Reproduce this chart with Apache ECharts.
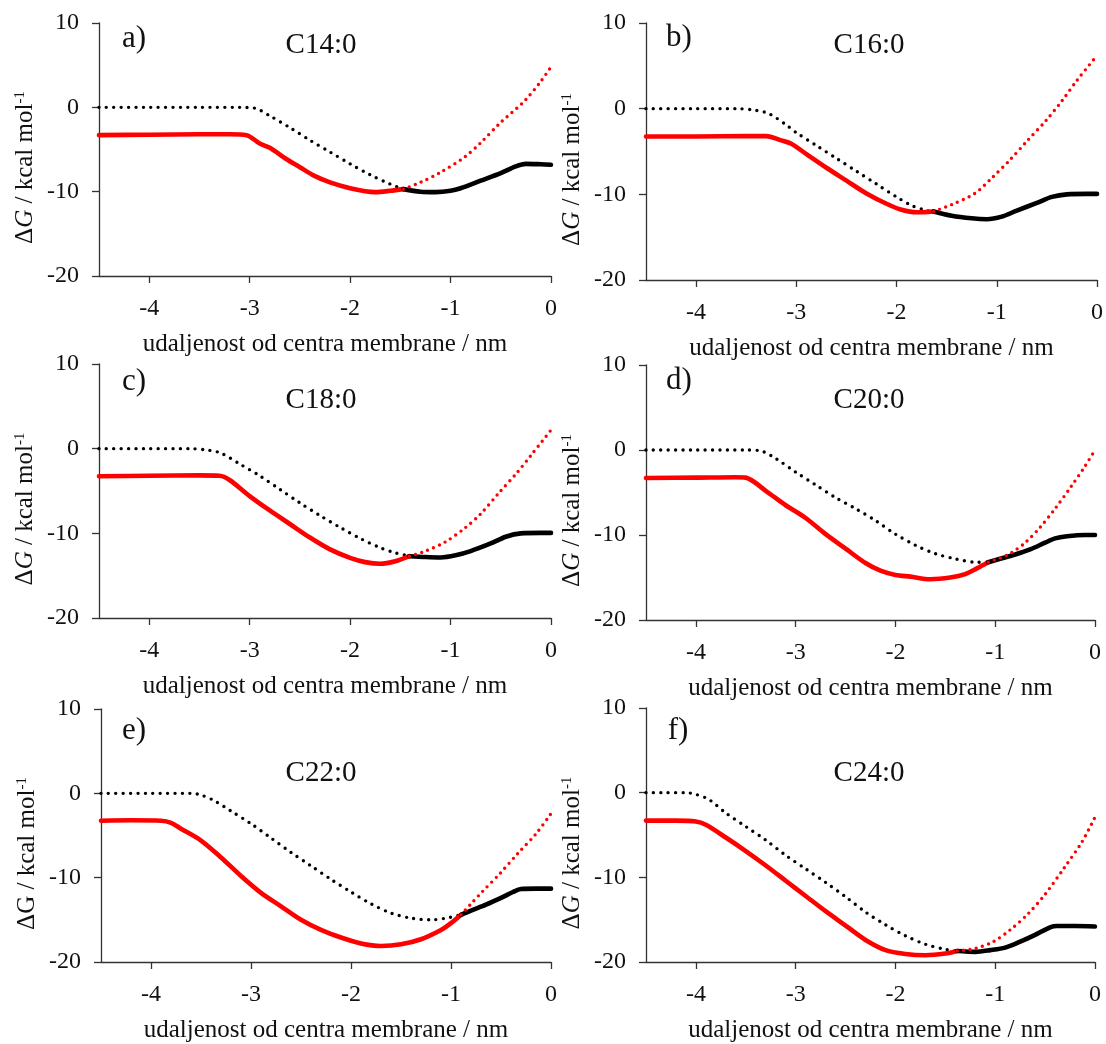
<!DOCTYPE html>
<html><head><meta charset="utf-8">
<script src="https://cdn.jsdelivr.net/npm/echarts@6/dist/echarts.min.js"></script>
<style>html,body{margin:0;padding:0;background:#fff}#c{width:1106px;height:1044px}</style>
</head><body><div id="c"></div><script>
// ---------- data ----------
const xTicks = [-4, -3, -2, -1, 0];
const yTicks = [-20, -10, 0, 10];
const panelLabels = ['a)', 'b)', 'c)', 'd)', 'e)', 'f)'];
const lipids = ['C14:0', 'C16:0', 'C18:0', 'C20:0', 'C22:0', 'C24:0'];
const xName = 'udaljenost od centra membrane / nm';

// a) C14:0
const a_blackDotted = [[-4.5,0],[-4,0],[-3.5,0],[-3.1,0],[-2.95,-0.1],[-2.8,-1.0],[-2.6,-2.4],[-2.4,-3.9],[-2.2,-5.3],[-2.0,-6.7],[-1.8,-8.0],[-1.6,-9.1],[-1.47,-9.7]];
const a_redSolid = [[-4.5,-3.3],[-4,-3.25],[-3.5,-3.2],[-3.2,-3.2],[-3.03,-3.3],[-2.9,-4.3],[-2.8,-4.8],[-2.64,-6.1],[-2.5,-7.1],[-2.36,-8.1],[-2.2,-8.9],[-2.0,-9.6],[-1.85,-9.95],[-1.75,-10.05],[-1.6,-9.9],[-1.47,-9.7]];
const a_blackSolid = [[-1.47,-9.7],[-1.3,-10.0],[-1.15,-10.05],[-1.0,-9.9],[-0.9,-9.6],[-0.7,-8.7],[-0.5,-7.8],[-0.35,-7.0],[-0.25,-6.7],[-0.1,-6.75],[0,-6.8]];
const a_redDotted = [[-1.47,-9.7],[-1.3,-8.9],[-1.1,-7.7],[-0.86,-5.9],[-0.7,-4.2],[-0.51,-1.9],[-0.26,0.8],[-0.1,3.1],[0,4.8]];

// b) C16:0
const b_blackDotted = [[-4.5,0],[-4,0],[-3.6,0],[-3.4,-0.2],[-3.27,-0.6],[-3.1,-1.9],[-3.0,-2.8],[-2.8,-4.3],[-2.6,-5.8],[-2.4,-7.3],[-2.2,-8.8],[-2.0,-10.3],[-1.85,-11.3],[-1.7,-11.9],[-1.63,-12.0]];
const b_redSolid = [[-4.5,-3.25],[-4,-3.25],[-3.5,-3.2],[-3.3,-3.2],[-3.15,-3.7],[-3.05,-4.1],[-2.9,-5.3],[-2.7,-6.9],[-2.5,-8.4],[-2.3,-9.9],[-2.1,-11.1],[-1.95,-11.8],[-1.8,-12.1],[-1.63,-12.0]];
const b_blackSolid = [[-1.63,-12.0],[-1.45,-12.5],[-1.25,-12.8],[-1.1,-12.9],[-0.95,-12.6],[-0.8,-11.9],[-0.6,-11.0],[-0.45,-10.3],[-0.3,-10.0],[-0.1,-9.95],[0,-9.95]];
const b_redDotted = [[-1.63,-12.0],[-1.45,-11.2],[-1.22,-9.9],[-1.05,-8.1],[-0.87,-6.0],[-0.7,-3.8],[-0.51,-1.4],[-0.35,0.9],[-0.2,3.3],[0,6.2]];

// c) C18:0
const c_blackDotted = [[-4.5,0],[-4,0],[-3.6,0],[-3.4,-0.2],[-3.28,-0.55],[-3.1,-1.8],[-2.9,-3.2],[-2.7,-4.8],[-2.5,-6.4],[-2.3,-7.9],[-2.1,-9.3],[-1.9,-10.6],[-1.7,-11.7],[-1.55,-12.3],[-1.41,-12.7]];
const c_redSolid = [[-4.5,-3.25],[-4,-3.2],[-3.5,-3.15],[-3.3,-3.2],[-3.2,-3.7],[-3.0,-5.6],[-2.8,-7.3],[-2.6,-8.9],[-2.4,-10.5],[-2.2,-11.9],[-2.0,-12.9],[-1.85,-13.4],[-1.7,-13.6],[-1.55,-13.3],[-1.41,-12.7]];
const c_blackSolid = [[-1.41,-12.7],[-1.25,-12.8],[-1.1,-12.85],[-0.95,-12.6],[-0.8,-12.1],[-0.6,-11.2],[-0.45,-10.4],[-0.3,-10.0],[-0.1,-9.95],[0,-9.95]];
const c_redDotted = [[-1.41,-12.7],[-1.25,-12.1],[-1.05,-11.0],[-0.86,-9.4],[-0.7,-7.7],[-0.51,-5.1],[-0.35,-3.0],[-0.2,-0.8],[0,2.2]];

// d) C20:0
const d_blackDotted = [[-4.5,0],[-4,0],[-3.5,0],[-3.35,-0.1],[-3.2,-1.0],[-3.0,-2.6],[-2.8,-4.1],[-2.6,-5.6],[-2.4,-6.9],[-2.2,-8.3],[-2.0,-9.9],[-1.8,-11.2],[-1.6,-12.2],[-1.4,-12.8],[-1.2,-13.2],[-1.07,-13.2]];
const d_redSolid = [[-4.5,-3.3],[-4,-3.25],[-3.6,-3.2],[-3.5,-3.25],[-3.3,-4.8],[-3.1,-6.5],[-2.9,-8.0],[-2.7,-9.9],[-2.5,-11.6],[-2.3,-13.3],[-2.15,-14.2],[-2.0,-14.7],[-1.85,-14.9],[-1.65,-15.2],[-1.45,-15.0],[-1.3,-14.6],[-1.18,-13.9],[-1.07,-13.2]];
const d_blackSolid = [[-1.07,-13.2],[-0.95,-12.8],[-0.8,-12.3],[-0.65,-11.7],[-0.5,-10.9],[-0.4,-10.4],[-0.28,-10.15],[-0.1,-10.0],[0,-10.0]];
const d_redDotted = [[-1.07,-13.2],[-0.95,-12.7],[-0.84,-12.1],[-0.7,-10.9],[-0.55,-9.1],[-0.4,-6.9],[-0.24,-4.3],[-0.1,-1.9],[0,0.0]];

// e) C22:0
const e_blackDotted = [[-4.5,0],[-4,0],[-3.6,0],[-3.5,-0.2],[-3.37,-0.85],[-3.2,-2.1],[-3.0,-3.6],[-2.8,-5.3],[-2.6,-7.0],[-2.4,-8.6],[-2.2,-10.2],[-2.0,-11.7],[-1.8,-13.1],[-1.6,-14.2],[-1.4,-14.8],[-1.2,-15.0],[-1.05,-14.8],[-0.9,-14.4]];
const e_redSolid = [[-4.5,-3.25],[-4.2,-3.2],[-3.9,-3.25],[-3.8,-3.5],[-3.7,-4.2],[-3.5,-5.6],[-3.3,-7.6],[-3.1,-9.8],[-2.9,-11.8],[-2.7,-13.4],[-2.5,-15.0],[-2.3,-16.2],[-2.1,-17.1],[-1.9,-17.8],[-1.7,-18.1],[-1.5,-17.9],[-1.3,-17.3],[-1.1,-16.2],[-1.0,-15.4],[-0.9,-14.4]];
const e_blackSolid = [[-0.9,-14.4],[-0.8,-13.9],[-0.65,-13.2],[-0.5,-12.4],[-0.38,-11.7],[-0.3,-11.35],[-0.15,-11.3],[0,-11.3]];
const e_redDotted = [[-0.9,-14.4],[-0.8,-13.1],[-0.69,-11.7],[-0.51,-9.5],[-0.33,-7.1],[-0.15,-4.8],[0,-2.4]];

// f) C24:0
const f_blackDotted = [[-4.5,0],[-4.3,0],[-4.1,0],[-4.0,-0.2],[-3.87,-0.8],[-3.7,-2.4],[-3.5,-4.0],[-3.3,-5.6],[-3.1,-7.4],[-2.9,-9.0],[-2.7,-10.6],[-2.5,-12.3],[-2.3,-14.1],[-2.1,-15.6],[-1.9,-16.9],[-1.7,-17.9],[-1.5,-18.5],[-1.38,-18.7]];
const f_redSolid = [[-4.5,-3.3],[-4.2,-3.3],[-4.0,-3.4],[-3.9,-3.8],[-3.7,-5.3],[-3.5,-6.9],[-3.3,-8.6],[-3.1,-10.4],[-2.9,-12.2],[-2.7,-14.0],[-2.5,-15.7],[-2.3,-17.4],[-2.1,-18.6],[-1.9,-19.05],[-1.7,-19.2],[-1.5,-19.0],[-1.38,-18.7]];
const f_blackSolid = [[-1.38,-18.7],[-1.2,-18.8],[-1.05,-18.6],[-0.9,-18.3],[-0.75,-17.6],[-0.6,-16.8],[-0.45,-15.9],[-0.38,-15.75],[-0.2,-15.75],[0,-15.8]];
const f_redDotted = [[-1.38,-18.7],[-1.2,-18.4],[-1.02,-17.6],[-0.85,-16.2],[-0.67,-14.3],[-0.5,-12.0],[-0.31,-8.9],[-0.13,-5.8],[0,-2.9]];

const seriesSets = [
  [a_blackDotted, a_redSolid, a_blackSolid, a_redDotted],
  [b_blackDotted, b_redSolid, b_blackSolid, b_redDotted],
  [c_blackDotted, c_redSolid, c_blackSolid, c_redDotted],
  [d_blackDotted, d_redSolid, d_blackSolid, d_redDotted],
  [e_blackDotted, e_redSolid, e_blackSolid, e_redDotted],
  [f_blackDotted, f_redSolid, f_blackSolid, f_redDotted]
];

// ---------- layout ----------
const FONT = '"Liberation Serif", "Times New Roman", serif';
const grids = [
  {left: 99, top: 23, width: 452, height: 253},
  {left: 646, top: 23, width: 452, height: 257},
  {left: 99, top: 364, width: 452, height: 254},
  {left: 646, top: 365, width: 449, height: 255},
  {left: 101, top: 709, width: 450, height: 255},
  {left: 646, top: 708, width: 449, height: 259}
];
const labelPos = [[134, 39], [679, 38], [134, 382], [679, 381], [134, 731], [678, 731]];
const titlePos = [[321, 45], [869, 45], [321, 400], [869, 400], [321, 773], [869, 773]];

const axisColor = '#333';
const xAxes = [], yAxes = [], series = [], graphics = [];

grids.forEach((g, i) => {
  xAxes.push({
    type: 'value', gridIndex: i, min: -4.5, max: 0,
    name: xName, nameLocation: 'middle', nameGap: 56,
    nameTextStyle: {fontFamily: FONT, fontSize: 25, color: '#111'},
    axisLine: {show: true, onZero: false, lineStyle: {color: axisColor, width: 1.3}},
    axisTick: {show: true, inside: false, length: 7, customValues: xTicks, lineStyle: {color: axisColor, width: 1.3}},
    axisLabel: {customValues: xTicks, margin: 21, fontFamily: FONT, fontSize: 24, color: '#111'},
    splitLine: {show: false}
  });
  const italic = i !== 4;
  yAxes.push({
    type: 'value', gridIndex: i, min: -20, max: 10, interval: 10,
    name: '{t|Δ}{' + (italic ? 'gi' : 't') + '|G}{t| / kcal mol}{s|-1}',
    nameLocation: 'middle', nameGap: 61, nameRotate: 90,
    nameTextStyle: {
      fontFamily: FONT, fontSize: 25, color: '#111', padding: [0, 36, 0, 0],
      rich: {
        t: {fontFamily: FONT, fontSize: 25, color: '#111'},
        gi: {fontFamily: FONT, fontSize: 25, fontStyle: 'italic', color: '#111'},
        s: {fontFamily: FONT, fontSize: 15, color: '#111', verticalAlign: 'top', padding: [0, 0, 10, 0]}
      }
    },
    axisLine: {show: true, onZero: false, lineStyle: {color: axisColor, width: 1.3}},
    axisTick: {show: true, inside: false, length: 7, lineStyle: {color: axisColor, width: 1.3}},
    axisLabel: {margin: 20, fontFamily: FONT, fontSize: 24, color: '#111'},
    splitLine: {show: false}
  });
  const [bd, rs, bs, rd] = seriesSets[i];
  const common = {type: 'line', xAxisIndex: i, yAxisIndex: i, symbol: 'none', silent: true,
    animation: false, smooth: 0.3};
  series.push(Object.assign({}, common, {data: bd, z: 2,
    lineStyle: {color: '#000', width: 3.4, type: [0, 7.4], cap: 'round'}}));
  series.push(Object.assign({}, common, {data: rs, z: 3,
    lineStyle: {color: '#ff0000', width: 4.6, cap: 'round', join: 'round'}}));
  series.push(Object.assign({}, common, {data: bs, z: 3,
    lineStyle: {color: '#000', width: 4.6, cap: 'round', join: 'round'}}));
  series.push(Object.assign({}, common, {data: rd, z: 4,
    lineStyle: {color: '#ff0000', width: 3.4, type: [0, 6.4], cap: 'round'}}));

  graphics.push({type: 'text', x: labelPos[i][0], y: labelPos[i][1], silent: true,
    style: {text: panelLabels[i], font: '31px ' + FONT, fill: '#111', align: 'center', verticalAlign: 'middle'}});
  graphics.push({type: 'text', x: titlePos[i][0], y: titlePos[i][1], silent: true,
    style: {text: lipids[i], font: '29px ' + FONT, fill: '#111', align: 'center', verticalAlign: 'middle'}});
});

const chart = echarts.init(document.getElementById('c'), null, {renderer: 'canvas'});
chart.setOption({
  backgroundColor: '#fff',
  animation: false,
  grid: grids.map(g => Object.assign({containLabel: false}, g)),
  xAxis: xAxes,
  yAxis: yAxes,
  series: series,
  graphic: graphics
});
</script></body></html>
